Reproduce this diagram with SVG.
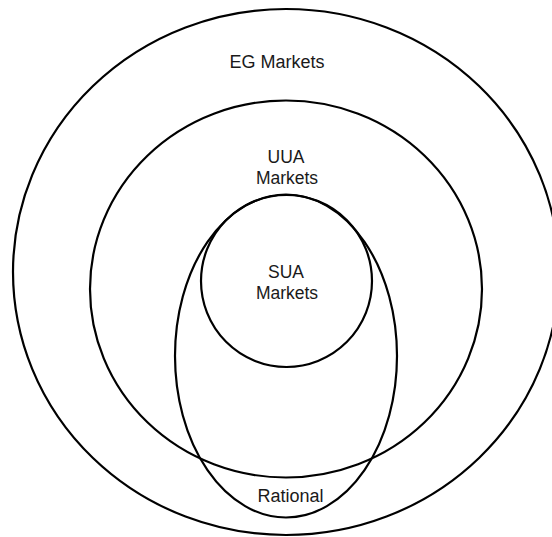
<svg xmlns="http://www.w3.org/2000/svg" width="552" height="537" viewBox="0 0 552 537">
<style>
.shape{fill:none;stroke:#000;stroke-width:2.2}
.lbl{font-family:"Liberation Sans",Arial,sans-serif;font-size:17.5px;fill:#1a1a1a;text-anchor:middle}
</style>
<rect width="552" height="537" fill="#fff"/>
<g id="eg">
<ellipse class="shape" cx="286" cy="272" rx="273" ry="263"/>
<text class="lbl" x="277" y="67.5" style="font-size:18px">EG Markets</text>
</g>
<g id="uua">
<ellipse class="shape" cx="286" cy="289" rx="196" ry="188.5"/>
<text class="lbl" x="286" y="162.5">UUA</text>
<text class="lbl" x="287" y="183.5">Markets</text>
</g>
<g id="rational">
<ellipse class="shape" cx="286" cy="356" rx="111" ry="161.5"/>
<text class="lbl" x="290.5" y="502" style="font-size:18px">Rational</text>
</g>
<g id="sua">
<ellipse class="shape" cx="286.5" cy="281" rx="85.5" ry="86"/>
<text class="lbl" x="286" y="277.5">SUA</text>
<text class="lbl" x="287" y="298.5">Markets</text>
</g>
<g id="connectors"></g>
</svg>
